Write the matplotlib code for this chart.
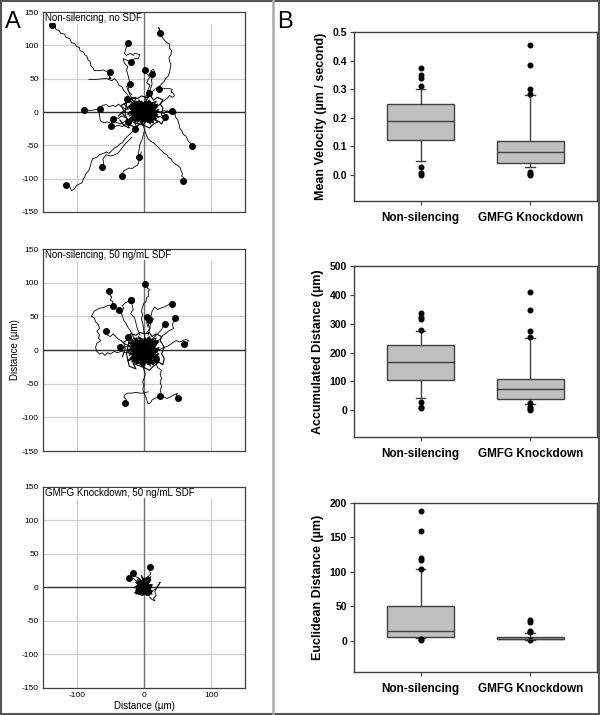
import matplotlib.pyplot as plt
from matplotlib.patches import Rectangle
from matplotlib.lines import Line2D

plt.rcParams['font.family'] = ['Liberation Sans', 'DejaVu Sans']
plt.rcParams['axes.unicode_minus'] = False

# ---- Panel A: cell tracks, (x, y) in um, first point = end marker ----
NS_TRACKS = [
    [(-136, 131), (-132, 129), (-131, 124), (-126, 122), (-124, 118), (-118, 117), (-116, 112), (-110, 110),
     (-108, 104), (-103, 103), (-100, 98), (-96, 97), (-95, 92), (-90, 90), (-88, 86), (-85, 84), (-83, 78),
     (-80, 76), (-79, 70), (-76, 66), (-74, 62), (-66, 62), (-60, 63), (-57, 61), (-53, 62), (-51, 58),
     (-54, 56), (-50, 52), (-53, 49), (-48, 47), (-44, 50), (-40, 46), (-37, 40), (-33, 38), (-30, 32),
     (-26, 28), (-22, 22), (-18, 18), (-12, 14), (-8, 8), (-3, 4), (0, 0)],
    [(-51, 60), (-49, 56), (-52, 53), (-49, 50), (-60, 50), (-70, 49), (-82, 49)],
    [(-24, 103), (-27, 95), (-29, 88), (-26, 85), (-20, 88), (-16, 85), (-14, 88), (-6, 86), (-9, 80),
     (-14, 80), (-19, 75)],
    [(-19, 75), (-31, 80), (-29, 73), (-24, 68), (-26, 63), (-24, 56), (-22, 48), (-21, 42), (-24, 33),
     (-20, 24), (-16, 16), (-10, 8)],
    [(-21, 42), (-26, 38), (-22, 30), (-18, 26)],
    [(24, 119), (22, 121), (23, 125), (21, 127), (23, 125), (24, 119), (26, 114), (30, 108), (34, 104),
     (38, 102), (38, 96), (41, 92), (40, 86), (37, 82), (38, 76), (40, 72), (39, 66), (38, 60), (36, 54),
     (32, 50), (30, 46), (26, 42), (22, 38), (16, 34), (12, 30), (8, 24), (4, 18), (2, 10), (0, 4)],
    [(2, 63), (3, 58), (6, 56), (8, 52), (6, 48), (4, 44), (9, 40), (6, 34), (4, 28), (2, 20), (0, 12)],
    [(12, 57), (10, 62), (14, 64), (16, 60), (13, 54), (11, 48), (12, 42), (10, 36), (7, 28)],
    [(7, 28), (5, 22), (3, 16), (1, 10)],
    [(22, 34), (30, 35), (38, 35), (42, 34), (40, 30), (44, 28), (45, 24), (42, 22), (38, 25), (34, 20),
     (28, 16), (22, 10), (16, 6)],
    [(-89, 3), (-82, 2), (-75, 3), (-68, 4), (-66, 8), (-64, 6), (-62, 10), (-56, 11), (-52, 8), (-46, 10),
     (-42, 8), (-38, 12), (-34, 8), (-30, 6), (-26, 4), (-20, 5), (-14, 2)],
    [(-65, 5), (-67, 0), (-66, -6), (-65, -13), (-60, -16), (-54, -15), (-49, -17), (-46, -14), (-40, -16),
     (-35, -18), (-30, -15), (-24, -12), (-18, -8)],
    [(-46, -10), (-42, -8), (-38, -10), (-34, -6), (-28, -8)],
    [(-49, -21), (-44, -22), (-38, -20), (-32, -22), (-28, -18), (-22, -16)],
    [(-14, -25), (-10, -22), (-6, -18)],
    [(31, -7), (26, -8), (22, -6), (18, -10), (12, -6)],
    [(42, 2), (38, 0), (34, 2), (30, -2), (24, 0), (18, 2)],
    [(71, -51), (69, -47), (66, -44), (64, -40), (62, -36), (58, -33), (56, -28), (53, -24), (52, -18),
     (50, -12), (47, -8), (46, -4), (48, 0), (44, 1), (40, 3), (36, 0), (30, 2), (24, 0), (16, -2)],
    [(58, -104), (62, -106), (63, -102), (60, -100), (56, -96), (57, -92), (55, -88), (54, -84), (50, -80),
     (46, -78), (42, -74), (40, -70), (36, -68), (34, -64), (30, -62), (26, -58), (22, -54), (18, -50),
     (14, -46), (10, -44), (6, -40), (4, -36), (2, -30), (0, -24), (-2, -18)],
    [(-116, -110), (-110, -112), (-108, -118), (-104, -116), (-100, -110), (-96, -108), (-92, -106),
     (-90, -100), (-88, -97), (-86, -92), (-82, -88), (-80, -82), (-78, -74), (-76, -70), (-70, -68),
     (-66, -64), (-60, -62), (-56, -60), (-52, -62), (-48, -58), (-44, -54), (-40, -52), (-36, -48),
     (-32, -46), (-28, -40), (-24, -36), (-20, -32), (-16, -28), (-12, -24), (-8, -18)],
    [(-63, -82), (-60, -78), (-61, -70), (-56, -64), (-50, -66), (-46, -65), (-39, -62), (-34, -56),
     (-30, -50), (-24, -44), (-18, -38)],
    [(-33, -96), (-32, -92), (-30, -88), (-26, -86), (-22, -84), (-18, -85), (-14, -82), (-10, -80),
     (-8, -76), (-6, -68), (-4, -60)],
    [(-8, -67), (-8, -60), (-7, -54), (-6, -48), (-4, -44), (-2, -38), (0, -30)],
    [(-26, 20), (-20, 16), (-14, 12)],
    [(-24, -15), (-18, -12), (-12, -10)],
]
NS_TANGLES = [
    [(0, 0), (-10, 6), (4, 12), (-6, -8), (12, -4), (-14, 2), (8, 10), (-4, -12), (14, 6), (-18, -6),
     (6, -14), (-8, 14), (16, -8), (-12, -2), (2, 16), (10, -12), (-16, 10), (18, 2), (-6, 4), (4, -6),
     (-20, -2), (12, 14), (-2, -16), (-10, -10), (20, -4), (0, 8), (-14, 16), (8, -2), (-4, 2), (14, -14),
     (-22, 6)],
    [(2, -2), (-6, 10), (10, 4), (-12, -6), (6, 12), (-2, -10), (16, 0), (-8, 6), (4, -12), (-16, 4),
     (12, 10), (0, -6), (-10, 14), (18, -10), (-4, -4), (8, 16), (-18, -10), (14, -2), (-2, 8), (6, -8),
     (-12, 12), (10, -6), (-6, -14), (20, 8), (-14, -2), (2, 4), (12, -16), (-8, 0), (4, 14), (-20, 10)],
    [(-4, 6), (8, -8), (-14, -12), (0, 12), (14, -6), (-8, -2), (6, 6), (-2, -14), (16, 12), (-10, 2),
     (4, -4), (-16, -8), (10, 14), (-6, -6), (18, -2), (-12, 8), (2, -10), (12, 2), (-4, 16), (8, -14),
     (-18, 2), (0, -2), (14, 8), (-10, -14), (6, 0)],
    [(-24, -4), (-2, 14), (18, -12), (-20, 12), (6, -16), (22, 4), (-16, -16), (10, 16), (-22, 0), (16, -4),
     (-8, 18), (4, -2), (-18, -12), (20, 12), (-4, -18), (12, 8), (-24, 8), (8, -10), (-12, 4), (18, 16),
     (0, -12), (-20, -8), (14, -14), (-6, 10), (22, -8)],
    [(-10, -16), (14, 14), (-22, -6), (6, 4), (-14, 14), (20, -14), (-2, 2), (-18, 6), (10, -18), (-6, 16),
     (16, -2), (-24, -12), (4, 10), (-12, -12), (22, 0), (-8, 8), (12, -10), (-20, 16), (2, -16), (18, 6),
     (-16, -2), (8, 18), (-4, -8), (14, -16), (-22, 10)],
    [(4, 2), (-14, -10), (12, 12), (-20, 4), (8, -6), (-6, -16), (18, 10), (-10, 10), (2, -4), (-24, -2),
     (16, -12), (-4, 14), (10, -14), (-16, 12), (20, -6), (-8, -12), (6, 16), (-18, -14), (14, 0),
     (-2, -20), (-12, 16), (22, 10), (-20, -10), (0, 6)],
    [(-38, -6), (-30, 2), (-34, 10), (-26, 14), (-28, -4), (-20, -20), (-10, -24), (-14, -16), (0, -20),
     (8, -24), (14, -18), (22, -14), (26, -18), (30, -10), (26, -4), (28, 6), (24, 12), (28, 18), (20, 22),
     (14, 18), (10, 24), (4, 22), (-4, 24), (-10, 20), (-18, 22), (-22, 14)],
    [(-36, -12), (-30, -20), (-22, -24), (-26, -10), (-32, -2), (-24, 6), (-30, 12), (-20, 18), (-12, 22),
     (-16, 10)],
]

SDF_TRACKS = [
    [(2, 98), (4, 96), (5, 92), (8, 90), (6, 86), (7, 80), (4, 78), (3, 72), (0, 70), (-2, 64), (-4, 58),
     (-2, 52), (-4, 46), (-2, 40), (-1, 34), (0, 26), (1, 18), (0, 10)],
    [(-52, 87), (-51, 82), (-48, 79), (-50, 74), (-46, 72), (-48, 66), (-44, 64), (-40, 62), (-37, 60)],
    [(-37, 60), (-34, 56), (-32, 50), (-30, 44), (-27, 40), (-24, 34), (-20, 28), (-16, 20), (-12, 14),
     (-8, 8)],
    [(-20, 75), (-24, 72), (-28, 70), (-32, 66), (-30, 62), (-33, 58)],
    [(-20, 75), (-18, 68), (-16, 60), (-20, 54), (-14, 48), (-12, 40), (-10, 32), (-6, 22)],
    [(41, 69), (45, 70), (38, 68), (34, 66), (30, 64), (24, 62), (20, 60), (16, 64), (12, 58), (10, 50),
     (14, 46), (10, 40), (8, 30), (6, 22)],
    [(5, 49), (8, 46), (10, 42), (6, 38), (9, 32), (4, 26)],
    [(7, 44), (4, 40), (6, 34)],
    [(46, 47), (44, 42), (42, 38), (44, 32), (40, 30), (36, 28), (32, 24), (28, 22), (24, 16), (18, 12),
     (14, 6)],
    [(31, 39), (28, 35), (26, 30), (22, 26), (18, 22), (12, 16)],
    [(-57, 28), (-54, 22), (-50, 20), (-46, 24), (-42, 20), (-38, 16), (-34, 14), (-30, 10), (-26, 8),
     (-20, 6), (-14, 4)],
    [(-35, 5), (-30, 4), (-24, 6), (-18, 3), (-12, 4)],
    [(-46, 66), (-54, 66), (-60, 63), (-66, 62), (-70, 60), (-74, 58), (-76, 54), (-78, 50), (-74, 48),
     (-72, 42), (-68, 38), (-66, 32), (-70, 28), (-66, 22), (-68, 18), (-64, 14), (-70, 10), (-72, 4),
     (-70, -2), (-66, -6), (-62, -4), (-58, -8), (-54, -4), (-50, -6), (-44, -2), (-40, -4), (-34, -2),
     (-28, -4), (-22, -2), (-16, 0)],
    [(60, 9), (64, 10), (66, 14), (62, 16), (56, 13), (52, 12), (48, 14), (44, 12), (40, 9), (36, 6),
     (30, 4), (26, 2), (20, 0), (14, -2)],
    [(23, -68), (20, -70), (16, -72), (12, -74), (10, -78), (6, -80), (4, -74), (2, -68), (0, -64),
     (-2, -58), (0, -52), (-2, -48), (0, -42), (2, -36), (0, -30), (-2, -22), (0, -14)],
    [(50, -71), (48, -67), (50, -64), (46, -66), (42, -68), (38, -70), (34, -72), (30, -70), (26, -66),
     (24, -60), (26, -54), (24, -48), (26, -42), (24, -36), (26, -30), (20, -26), (18, -20), (14, -14),
     (10, -8)],
    [(-28, -78), (-26, -74), (-30, -70), (-28, -66), (-24, -64), (-18, -64), (-12, -63), (-6, -64),
     (0, -64), (6, -62)],
    [(-24, 20), (-18, 16), (-12, 12)],
    [(18, -14), (14, -10), (10, -6)],
]
SDF_TANGLES = [
    [(0, 0), (-12, 8), (6, 14), (-8, -10), (14, -6), (-16, 0), (10, 12), (-4, -18), (16, 6), (-18, -8),
     (8, -20), (-10, 16), (18, -12), (-14, -4), (2, 18), (12, -16), (-18, 12), (20, 2), (-6, 4), (4, -8),
     (-20, -14), (14, 16), (-2, -22), (-12, -16), (22, -6), (0, 10), (-16, 18), (10, -2), (-6, 2),
     (16, -20), (-22, 6)],
    [(2, -4), (-8, 12), (12, 4), (-14, -8), (8, 14), (-2, -14), (18, 0), (-10, 6), (6, -16), (-18, 4),
     (14, 10), (0, -8), (-12, 16), (20, -12), (-6, -6), (10, 16), (-20, -12), (16, -4), (-4, 8), (8, -10),
     (-14, 12), (12, -8), (-8, -20), (20, 10), (-16, -2), (4, 2), (14, -22), (-10, 0), (6, 16), (-20, 10)],
    [(-4, 6), (10, -10), (-16, -14), (0, 14), (16, -8), (-10, -2), (8, 8), (-2, -16), (18, 14), (-12, 2),
     (6, -4), (-18, -10), (12, 16), (-8, -6), (20, -2), (-14, 8), (2, -12), (14, 2), (-6, 18), (10, -18),
     (-20, 2), (0, -24), (16, 8), (-12, -20), (8, 0)],
    [(-22, -6), (-2, 16), (18, -14), (-20, 14), (6, -22), (22, 4), (-16, -20), (10, 18), (-24, 0), (16, -6),
     (-8, 20), (4, -4), (-18, -16), (20, 14), (-4, -24), (12, 10), (-22, 10), (8, -14), (-12, 6), (18, 18),
     (0, -16), (-20, -12), (14, -20), (-6, 12), (22, -10)],
    [(-10, -20), (14, 16), (-22, -8), (6, 6), (-14, 16), (20, -18), (-2, 4), (-18, 8), (10, -24), (-6, 18),
     (16, -2), (-24, -16), (4, 12), (-12, -14), (22, 0), (-8, 10), (12, -12), (-20, 18), (2, -20), (18, 8),
     (-16, -4), (8, 20), (-4, -10), (14, -22), (-22, 12)],
    [(4, 2), (-14, -12), (12, 14), (-20, 6), (8, -8), (-6, -22), (18, 12), (-10, 12), (2, -6), (-24, -4),
     (16, -16), (-4, 16), (10, -18), (-16, 14), (20, -8), (-8, -16), (6, 18), (-18, -18), (14, 0),
     (-2, -25), (-12, 18), (22, 12), (-20, -12), (0, 8)],
    [(-32, -10), (-28, 2), (-30, 12), (-22, 16), (-26, -6), (-22, -24), (-12, -28), (-16, -20), (0, -26),
     (8, -30), (14, -24), (22, -18), (28, -22), (30, -12), (26, -6), (30, 4), (24, 14), (26, 20), (18, 24),
     (12, 20), (8, 26), (2, 24), (-6, 26), (-12, 22), (-20, 24), (-24, 16)],
]

KD_TRACKS = [
    [(9, 30), (12, 28), (8, 26), (10, 20), (6, 16), (8, 10), (4, 4)],
    [(-23, 14), (-20, 12), (-16, 14), (-12, 10), (-8, 8), (-4, 6)],
    [(-16, 21), (-18, 18), (-14, 18), (-12, 16), (-8, 14)],
    [(4, -4), (10, -8), (14, -4), (18, -2), (22, 4), (24, 8), (20, 2), (16, -6), (18, -12), (14, -16),
     (16, -20), (12, -18), (8, -14)],
]
KD_TANGLES = [
    [(0, 0), (-8, 6), (4, 10), (-6, -6), (8, -4), (-10, 2), (6, 8), (-2, -10), (10, 4), (-12, -4),
     (4, -10), (-6, 12), (10, -8), (-8, -2), (2, 14), (8, -12), (-12, 8), (12, 0), (-4, 4), (2, -6),
     (-14, -8), (8, 12), (-2, -12), (-8, -10), (12, -6), (0, 6)],
    [(2, -2), (-6, 8), (8, 2), (-10, -6), (4, 12), (-2, -8), (12, 4), (-8, 4), (4, -8), (-12, 2), (8, 10),
     (0, -4), (-8, 14), (12, -10), (-4, -2), (6, 16), (-12, -10), (10, -2), (-2, 6), (6, -6)],
    [(-12, -4), (0, 14), (10, -10), (-10, 12), (4, -12), (12, 4), (-8, -10), (6, 16), (-14, 0), (8, -4),
     (-4, 18), (2, -2), (-10, -8), (10, 12), (-2, -12), (6, 8), (-12, 8), (4, -8), (-6, 4), (10, 16),
     (0, -10), (-10, -6), (8, -12), (-4, 10), (12, -6)],
]

# ---- Panel B: box-plot statistics ----
GROUPS = ['Non-silencing', 'GMFG Knockdown']

VEL_Q1 = [0.121, 0.042]
VEL_MED = [0.190, 0.079]
VEL_Q3 = [0.249, 0.117]
VEL_LO = [0.049, 0.028]
VEL_HI = [0.300, 0.278]
VEL_OUT = [[0.374, 0.348, 0.339, 0.312, 0.029, 0.008, 0.0],
           [0.453, 0.383, 0.301, 0.283, 0.012, 0.004, 0.0]]

ACC_Q1 = [106, 39]
ACC_MED = [169, 72]
ACC_Q3 = [225, 110]
ACC_LO = [44, 23]
ACC_HI = [276, 250]
ACC_OUT = [[336, 324, 315, 280, 27, 12, 6],
           [410, 348, 274, 253, 24, 12, 5, 1]]

EUC_Q1 = [5.8, 2.9]
EUC_MED = [14.5, 3.4]
EUC_Q3 = [51, 5.8]
EUC_LO = [4.3, 2.0]
EUC_HI = [104, 11.6]
EUC_OUT = [[188, 160, 120, 118, 105, 3.4, 1.0],
           [30, 27, 14.5, 12.5, 1.0]]

fig = plt.figure(figsize=(6.0, 7.15), dpi=100)


def track_panel(rect, title, tracks, tangles, ylabel=False, xlabel=False):
    ax = fig.add_axes(rect)
    ax.set_xlim(-150, 150)
    ax.set_ylim(-150, 150)
    for g in (-100, 100):
        ax.axvline(g, ymax=0.94, color='#d0d0d0', lw=0.9, zorder=0)
    for g in (-100, -50, 50, 100):
        ax.axhline(g, color='#d0d0d0', lw=0.9, zorder=0)
    ax.axvline(0, color='#707070', lw=1.0, zorder=1)
    ax.axhline(0, color='#303030', lw=1.0, zorder=1)
    for tr in tangles:
        ax.plot([p[0] for p in tr], [p[1] for p in tr], color='black', lw=0.8, zorder=2)
    for tr in tracks:
        ax.plot([p[0] for p in tr], [p[1] for p in tr], color='black', lw=0.6, zorder=2)
        ax.plot(tr[0][0], tr[0][1], 'o', color='black', ms=4, zorder=3)
    ax.text(0.01, 0.995, title, transform=ax.transAxes, ha='left', va='top', fontsize=7,
            bbox=dict(facecolor='white', edgecolor='none', pad=0.3), zorder=4)
    ax.set_yticks([-150, -100, -50, 0, 50, 100, 150])
    ax.set_xticks([-100, 0, 100])
    ax.tick_params(length=0, labelsize=6, pad=3)
    if not xlabel:
        ax.set_xticklabels([])
    else:
        ax.set_xlabel('Distance (\u00b5m)', fontsize=7, labelpad=1)
    if ylabel:
        ax.set_ylabel('Distance (\u00b5m)', fontsize=7, labelpad=1)
    for s in ax.spines.values():
        s.set_color('#404040')
        s.set_linewidth(0.9)
    return ax


track_panel([0.0717, 0.7035, 0.3367, 0.2797], 'Non-silencing, no SDF', NS_TRACKS, NS_TANGLES)
track_panel([0.0717, 0.3692, 0.3367, 0.2825], 'Non-silencing, 50 ng/mL SDF', SDF_TRACKS, SDF_TANGLES,
            ylabel=True)
track_panel([0.0717, 0.0378, 0.3367, 0.2811], 'GMFG Knockdown, 50 ng/mL SDF', KD_TRACKS, KD_TANGLES,
            xlabel=True)


def box_panel(rect, q1, med, q3, lo, hi, out, ylim, yticks, fmt, ylabel):
    ax = fig.add_axes(rect)
    stats = []
    for i in range(2):
        stats.append(dict(q1=q1[i], med=med[i], q3=q3[i], whislo=lo[i], whishi=hi[i], fliers=out[i]))
    ax.bxp(stats, positions=[1, 2], widths=0.61, patch_artist=True, capwidths=0.09,
           boxprops=dict(facecolor='#c0c0c0', edgecolor='#404040', lw=1.0),
           medianprops=dict(color='#404040', lw=1.0),
           whiskerprops=dict(color='#404040', lw=1.0),
           capprops=dict(color='#404040', lw=1.0),
           flierprops=dict(marker='o', markerfacecolor='black', markeredgecolor='black', markersize=3.3))
    ax.set_xlim(0.393, 2.61)
    ax.set_ylim(*ylim)
    ax.set_yticks(yticks)
    ax.set_yticklabels([fmt.format(v) for v in yticks], fontsize=7.5, fontweight='bold')
    ax.set_xticks([1, 2])
    ax.set_xticklabels(GROUPS, fontsize=8.5, fontweight='bold')
    ax.tick_params(axis='y', length=3, width=0.8, pad=2, color='#404040')
    ax.tick_params(axis='x', length=3, width=0.8, pad=5, color='#404040')
    ax.set_ylabel(ylabel, fontsize=9, fontweight='bold', labelpad=4)
    for s in ax.spines.values():
        s.set_color('#404040')
        s.set_linewidth(1.0)
    return ax


box_panel([0.59, 0.7189, 0.405, 0.2364], VEL_Q1, VEL_MED, VEL_Q3, VEL_LO, VEL_HI, VEL_OUT,
          (-0.091, 0.5), [0.0, 0.1, 0.2, 0.3, 0.4, 0.5], '{:.1f}', 'Mean Velocity (\u00b5m / second)')
box_panel([0.59, 0.3888, 0.405, 0.239], ACC_Q1, ACC_MED, ACC_Q3, ACC_LO, ACC_HI, ACC_OUT,
          (-93, 500), [0, 100, 200, 300, 400, 500], '{:d}', 'Accumulated Distance (\u00b5m)')
box_panel([0.59, 0.0601, 0.405, 0.2364], EUC_Q1, EUC_MED, EUC_Q3, EUC_LO, EUC_HI, EUC_OUT,
          (-45, 200), [0, 50, 100, 150, 200], '{:d}', 'Euclidean Distance (\u00b5m)')

fig.text(0.008, 0.985, 'A', fontsize=17, ha='left', va='top')
fig.text(0.462, 0.985, 'B', fontsize=17, ha='left', va='top')
fig.add_artist(Line2D([0.455, 0.455], [0, 1], transform=fig.transFigure, color='#aaaaaa', lw=1.8))
fig.add_artist(Rectangle((0.001, 0.001), 0.998, 0.998, transform=fig.transFigure, fill=False,
                         edgecolor='#555555', lw=1.5))

fig.savefig('out.png', dpi=100)
